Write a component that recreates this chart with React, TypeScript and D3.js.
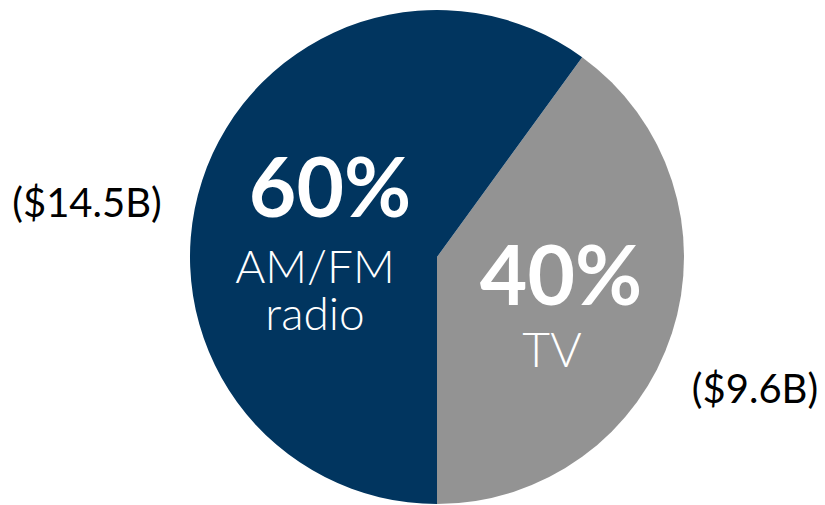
import React from "react";
import * as d3 from "d3";

const categories = ["TV", "AM/FM radio"];
const shares = [40, 60];
const amounts = ["($9.6B)", "($14.5B)"];
const colors = ["#939393", "#01355f"];

const width = 825;
const height = 505;

export default function App() {
  const cx = 437;
  const cy = 257;
  const radius = 247;

  const pie = d3
    .pie<number>()
    .sort(null)
    .startAngle((36 * Math.PI) / 180)
    .endAngle((396 * Math.PI) / 180);
  const arcs = pie(shares);
  const arc = d3.arc<d3.PieArcDatum<number>>().innerRadius(0).outerRadius(radius);

  // label anchors, relative to center
  const pctPos = [
    { x: 124, y: 48 },
    { x: -107, y: -40 },
  ];
  const namePos = [
    { x: 115, y: 110 },
    { x: -122, y: 26 },
  ];
  const amountPos = [
    { x: 318, y: 146 },
    { x: -350, y: -40 },
  ];

  return (
    <svg
      width={width}
      height={height}
      style={{ position: "absolute", left: 0, top: 0, display: "block" }}
    >
      <rect width={width} height={height} fill="#ffffff" />
      <g transform={`translate(${cx},${cy})`}>
        {arcs.map((a, i) => (
          <path key={`slice/${i}`} d={arc(a) ?? ""} fill={colors[i]} />
        ))}
        {arcs.map((a, i) => {
          const lines = categories[i] === "AM/FM radio" ? ["AM/FM", "radio"] : [categories[i]];
          return (
            <g key={`label/${i}`} fill="#ffffff" textAnchor="middle">
              <text
                x={pctPos[i].x}
                y={pctPos[i].y}
                fontFamily="Lato, 'Open Sans', sans-serif"
                fontWeight={700}
                fontSize={82}
              >
                {`${shares[i]}%`}
              </text>
              {lines.map((l, j) => (
                <text
                  key={j}
                  x={namePos[i].x}
                  y={namePos[i].y + j * 47}
                  fontFamily="Lato, 'Open Sans', sans-serif"
                  fontWeight={300}
                  fontSize={i === 0 ? 48 : 46}
                >
                  {l}
                </text>
              ))}
            </g>
          );
        })}
        {amounts.map((t, i) => (
          <text
            key={`amount/${i}`}
            x={amountPos[i].x}
            y={amountPos[i].y}
            textAnchor="middle"
            fontFamily="Lato, 'Open Sans', sans-serif"
            fontSize={40}
            fill="#000000"
          >
            {t}
          </text>
        ))}
      </g>
    </svg>
  );
}
